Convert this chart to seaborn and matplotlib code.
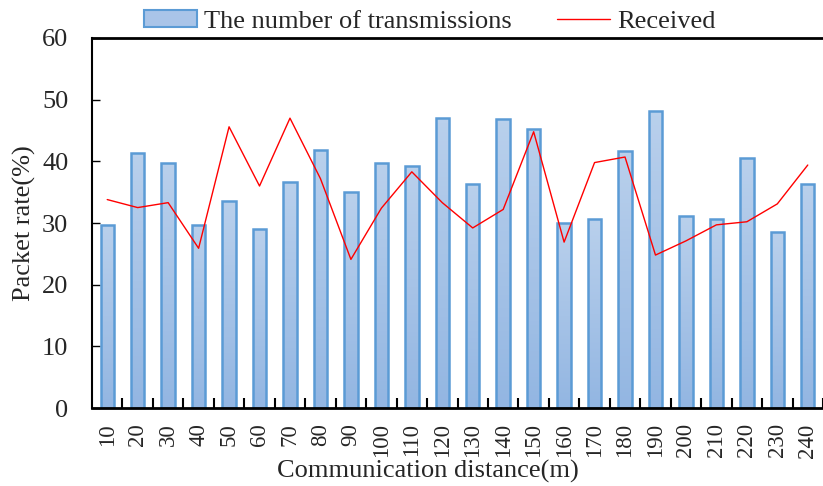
import numpy as np
import pandas as pd
import matplotlib
matplotlib.use("Agg")
import matplotlib.pyplot as plt
import seaborn as sns
from matplotlib.colors import LinearSegmentedColormap
from matplotlib.patches import Patch
from matplotlib.lines import Line2D

# values
distance = [10, 20, 30, 40, 50, 60, 70, 80, 90, 100, 110, 120,
            130, 140, 150, 160, 170, 180, 190, 200, 210, 220, 230, 240]
transmissions = [29.7, 41.3, 39.8, 29.7, 33.6, 29.0, 36.7, 41.8, 35.0, 39.8, 39.3, 47.0,
                 36.3, 46.9, 45.2, 30.0, 30.6, 41.6, 48.1, 31.1, 30.6, 40.6, 28.5, 36.3]
received = [33.8, 32.5, 33.3, 25.9, 45.6, 36.0, 47.0, 37.2, 24.1, 32.4, 38.3, 33.3,
            29.2, 32.2, 44.8, 26.9, 39.8, 40.7, 24.8, 27.1, 29.7, 30.2, 33.1, 39.4]

df = pd.DataFrame({"distance": [str(d) for d in distance],
                   "sent": transmissions,
                   "received": received})

sns.set_style("white")
plt.rcParams["font.family"] = ["Liberation Serif", "DejaVu Serif"]
plt.rcParams["font.size"] = 19

fig = plt.figure(figsize=(8.23, 4.86), dpi=100)
ax = fig.add_axes([92 / 823, 78 / 486, 731 / 823, 370 / 486])

edge = "#5b9bd5"
fill = "#a9c4e8"
sns.barplot(data=df, x="distance", y="sent", color=fill, width=0.44,
            edgecolor=edge, linewidth=1.8, saturation=1, ax=ax)

# gradient fill inside each bar
cmap = LinearSegmentedColormap.from_list("bar", ["#93b6e2", "#b9d0ec"])
grad = np.linspace(0, 1, 64).reshape(-1, 1)
for p in ax.patches:
    x0, y0 = p.get_x(), p.get_y()
    w, h = p.get_width(), p.get_height()
    im = ax.imshow(grad, cmap=cmap, origin="lower", aspect="auto",
                   extent=[x0, x0 + w, y0, y0 + h], zorder=p.get_zorder() - 0.1)
    im.set_clip_path(p)
    p.set_facecolor("none")

sns.lineplot(x=np.arange(len(distance)), y=received, color="red", linewidth=1,
             ax=ax, legend=False)

ax.set_xlim(-0.5, 23.23)
ax.set_ylim(0, 60)
ax.set_yticks(range(0, 61, 10))
ax.set_xticks(np.arange(len(distance)))
ax.set_xticklabels([str(d) for d in distance], rotation=90)
ax.set_xticks(np.arange(len(distance)) + 0.5, minor=True)
ax.tick_params(axis="x", which="major", length=0, pad=11, labelsize=16.5)
ax.tick_params(axis="x", which="minor", direction="in", length=7, width=1.5,
               bottom=True, color="black")
ax.tick_params(axis="y", direction="in", length=6, width=1, left=True,
               labelsize=19, pad=17, color="black")

ax.set_xlabel("Communication distance(m)", fontsize=19)
ax.xaxis.set_label_coords(0.46, -0.14)
ax.set_ylabel("Packet rate(%)", fontsize=19, labelpad=4)

for side in ["left", "bottom", "top"]:
    ax.spines[side].set_visible(True)
    ax.spines[side].set_color("black")
    ax.spines[side].set_linewidth(1.5)
ax.spines["top"].set_linewidth(2)
ax.spines["bottom"].set_linewidth(2)
ax.spines["right"].set_visible(False)

handles = [Patch(facecolor=fill, edgecolor=edge, linewidth=1.5),
           Line2D([], [], color="red", linewidth=1)]
labels = ["The number of transmissions", "Received"]
ax.legend(handles, labels, loc="lower center", bbox_to_anchor=(0.462, 0.985),
          ncol=2, frameon=False, fontsize=19, handlelength=2.0, handleheight=0.6,
          columnspacing=1.75, borderaxespad=0, handletextpad=0.25)

fig.savefig("out.png", dpi=100)
